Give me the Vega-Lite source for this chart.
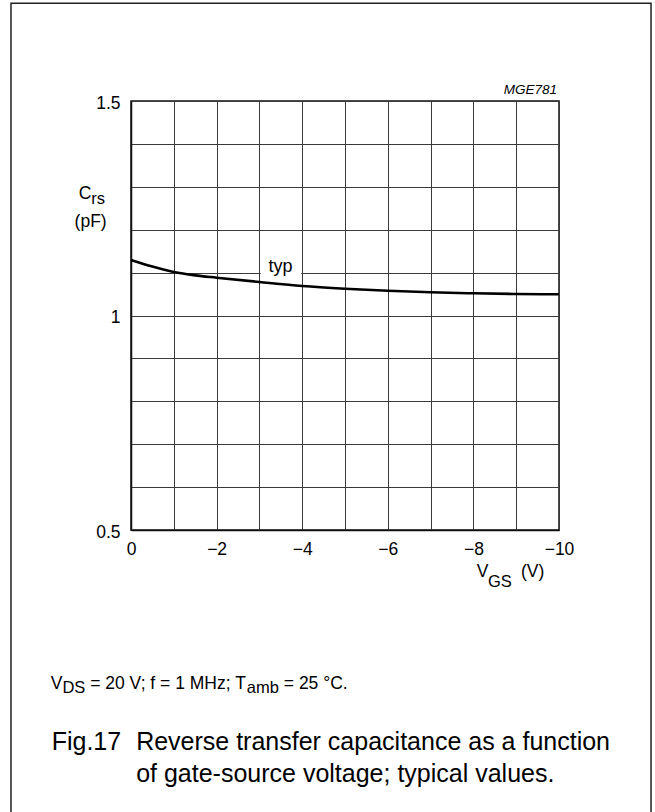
{
  "$schema": "https://vega.github.io/schema/vega-lite/v6.json",
  "width": 428,
  "height": 429,
  "autosize": {"type": "none"},
  "padding": {"left": 131, "top": 101, "right": 96, "bottom": 282},
  "background": "white",
  "config": {
    "view": {"stroke": "#111", "strokeWidth": 1.5},
    "font": "Liberation Sans",
    "axis": {"labelFont": "Liberation Sans", "labelColor": "#000", "labelFontSize": 17.5, "ticks": false, "tickSize": 0, "gridColor": "#3a3a3a", "gridWidth": 1, "gridOpacity": 1, "domainColor": "#111", "domainWidth": 1.5, "title": null}
  },
  "encoding": {
    "x": {
      "field": "x", "type": "quantitative",
      "scale": {"domain": [0, -10], "nice": false, "zero": false},
      "axis": {"values": [0, -1, -2, -3, -4, -5, -6, -7, -8, -9, -10], "labelExpr": "datum.value % 2 === 0 ? datum.label : ''", "labelPadding": 10, "labelFlush": false, "labelOverlap": false, "grid": true}
    },
    "y": {
      "field": "y", "type": "quantitative",
      "scale": {"domain": [0.5, 1.5], "nice": false, "zero": false},
      "axis": {"values": [0.5, 0.6, 0.7, 0.8, 0.9, 1, 1.1, 1.2, 1.3, 1.4, 1.5], "labelExpr": "datum.value === 0.5 ? '0.5' : datum.value === 1 ? '1' : datum.value === 1.5 ? '1.5' : ''", "labelPadding": 11, "labelOffset": 2, "labelFlush": false, "labelOverlap": false, "grid": true}
    }
  },
  "layer": [
    {
      "data": {"values": [{"x": 2.804, "y": 1.7278, "x2": -12.15, "y2": -0.176}]},
      "mark": {"type": "rect", "fillOpacity": 0, "stroke": "#222", "strokeWidth": 1.5, "clip": false},
      "encoding": {"x2": {"field": "x2"}, "y2": {"field": "y2"}}
    },
    {
      "data": {"values": [{"x": -3.03, "x2": -3.98, "y": 1.1}]},
      "mark": {"type": "rule", "color": "white", "strokeWidth": 3},
      "encoding": {"x2": {"field": "x2"}}
    },
    {
      "data": {"values": [
        {"x": 0, "y": 1.1294},
        {"x": -0.5, "y": 1.114},
        {"x": -1, "y": 1.1014},
        {"x": -1.5, "y": 1.0935},
        {"x": -2, "y": 1.0881},
        {"x": -3, "y": 1.0781},
        {"x": -4, "y": 1.0688},
        {"x": -5, "y": 1.0625},
        {"x": -6, "y": 1.0578},
        {"x": -7, "y": 1.0541},
        {"x": -8, "y": 1.0517},
        {"x": -9, "y": 1.0501},
        {"x": -10, "y": 1.0494}
      ]},
      "mark": {"type": "line", "color": "#000", "strokeWidth": 2.6, "interpolate": "monotone"}
    },
    {
      "data": {"values": [{"x": -3.493, "y": 1.1007, "t": "typ"}]},
      "mark": {"type": "text", "fontSize": 18, "align": "center", "baseline": "alphabetic", "color": "#000"},
      "encoding": {"text": {"field": "t"}}
    },
    {
      "data": {"values": [{"x": -9.953, "y": 1.5163, "t": "MGE781"}]},
      "mark": {"type": "text", "fontSize": 13.5, "fontStyle": "italic", "align": "right", "baseline": "alphabetic", "color": "#000"},
      "encoding": {"text": {"field": "t"}}
    },
    {
      "data": {"values": [
        {"x": -8.077, "y": 0.3911, "t": "V"},
        {"x": -9.112, "y": 0.3904, "t": "(V)"},
        {"x": 1.876, "y": 0.1294, "t": "V"},
        {"x": 0.953, "y": 0.1294, "t": "= 20 V; f = 1 MHz; T"},
        {"x": -3.570, "y": 0.1294, "t": "= 25 °C."}
      ]},
      "mark": {"type": "text", "fontSize": 17.5, "align": "left", "baseline": "alphabetic", "color": "#000"},
      "encoding": {"text": {"field": "t"}}
    },
    {
      "data": {"values": [
        {"x": 0.928, "y": 1.2716, "t": "C"},
        {"x": 0.568, "y": 1.2063, "t": "(pF)"}
      ]},
      "mark": {"type": "text", "fontSize": 17.5, "align": "right", "baseline": "alphabetic", "color": "#000"},
      "encoding": {"text": {"field": "t"}}
    },
    {
      "data": {"values": [
        {"x": -8.341, "y": 0.3678, "t": "GS"},
        {"x": 0.928, "y": 1.2599, "t": "rs"},
        {"x": 1.603, "y": 0.1189, "t": "DS"},
        {"x": -2.706, "y": 0.1189, "t": "amb"}
      ]},
      "mark": {"type": "text", "fontSize": 16.5, "align": "left", "baseline": "alphabetic", "color": "#000"},
      "encoding": {"text": {"field": "t"}}
    },
    {
      "data": {"values": [
        {"x": 1.853, "y": -0.0128, "t": "Fig.17"},
        {"x": -0.12, "y": -0.0128, "t": "Reverse transfer capacitance as a function"},
        {"x": -0.12, "y": -0.0874, "t": "of gate-source voltage; typical values."}
      ]},
      "mark": {"type": "text", "fontSize": 25, "align": "left", "baseline": "alphabetic", "color": "#000"},
      "encoding": {"text": {"field": "t"}}
    }
  ]
}
